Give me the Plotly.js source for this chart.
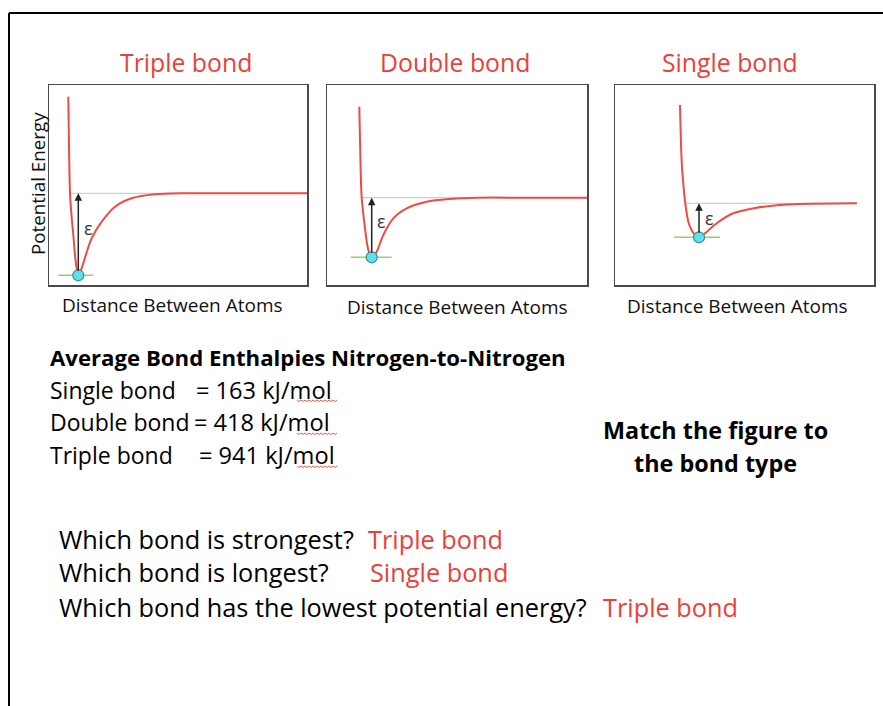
<!DOCTYPE html>
<html>
<head>
<meta charset="utf-8">
<script src="https://cdn.plot.ly/plotly-3.0.1.min.js"></script>
<style>
  html, body { margin: 0; padding: 0; background: #fff; }
  #chart { width: 883px; height: 706px; }
</style>
</head>
<body>
<div id="chart"></div>
<script>
// ---- Data (distance in px-like units, energy relative to separated atoms) ----
const panelTitles = ["Triple bond", "Double bond", "Single bond"];
const xAxisLabel = "Distance Between Atoms";
const yAxisLabel = "Potential Energy";

const tripleX = [19.3, 20.0, 21.0, 22.5, 24.3, 26.7, 29.3, 31.5, 34.3, 38.0, 42.7, 52.7, 66.0, 82.7, 106.0, 136.0, 180.0, 258.0];
const tripleY = [96.6, 48.0, 0.0, -22.0, -41.7, -68.4, -82.0, -78.0, -70.0, -58.0, -45.0, -28.4, -13.4, -5.0, -1.0, 0.0, 0.0, 0.0];

const doubleX = [32.3, 33.7, 34.7, 38.0, 40.3, 42.5, 44.7, 47.0, 49.7, 56.3, 66.3, 79.7, 99.7, 123.0, 149.7, 200.0, 260.0];
const doubleY = [91.0, 26.0, 0.0, -30.6, -47.3, -56.0, -59.6, -57.5, -54.0, -37.3, -20.6, -10.6, -4.0, -1.3, 0.0, 0.0, 0.0];

const singleX = [65.0, 66.7, 69.0, 70.3, 73.3, 78.0, 84.0, 87.0, 90.0, 101.7, 118.3, 141.7, 165.0, 185.0, 242.0];
const singleY = [98.3, 41.6, 11.6, 0.0, -18.4, -29.0, -34.0, -32.5, -30.0, -20.0, -10.0, -4.4, -1.7, -0.7, 0.0];

// equilibrium (minimum) points and well depths ε
const minX = [29.3, 44.7, 84.0];
const minY = [-82.0, -59.6, -34.0];
// where the wall crosses the dissociation level, and where each curve ends
const crossX = [21.0, 34.7, 70.3];
const endX = [258.0, 260.0, 242.0];

const heading = "Average Bond Enthalpies Nitrogen-to-Nitrogen";
const enthalpyLabels = ["Single bond", "Double bond", "Triple bond"];
const enthalpyValues = ["= 163 kJ/mol", "= 418 kJ/mol", "= 941 kJ/mol"];
const matchLines = ["Match the figure to", "the bond type"];
const questions = ["Which bond is strongest?", "Which bond is longest?", "Which bond has the lowest potential energy?"];
const answers = ["Triple bond", "Single bond", "Triple bond"];

// ---- Layout geometry ----
const W = 883, H = 706;
const px = v => v / W;
const py = v => 1 - v / H;
const RED = "#e8413a";
const FONT = "'Open Sans', sans-serif";

const boxes = [
  {x0: 49, x1: 307, y0: 85, y1: 285, xr: [0, 258], yr: [-91.7, 108.3]},
  {x0: 327, x1: 587, y0: 85, y1: 285, xr: [0, 260], yr: [-87.3, 112.7]},
  {x0: 615, x1: 874, y0: 85, y1: 285, xr: [0, 259], yr: [-81.7, 118.3]}
];

const curvesX = [tripleX, doubleX, singleX];
const curvesY = [tripleY, doubleY, singleY];
const greenLeft = [20, 21, 25];
const greenRight = [15, 20, 21];

const traces = [];
const annotations = [];
const layout = {
  width: W, height: H,
  margin: {l: 0, r: 0, t: 0, b: 0},
  paper_bgcolor: "#fff", plot_bgcolor: "#fff",
  showlegend: false,
  font: {family: FONT, color: "#000"},
  shapes: []
};

function note(x, y, text, size, color, anchor, extra) {
  const xx = anchor === "left" ? x - 3 : x;
  annotations.push(Object.assign({xref: "paper", yref: "paper", x: px(xx), y: py(y), text: text,
    showarrow: false, xanchor: anchor, yanchor: "middle", font: {size: size, color: color, family: FONT}}, extra || {}));
}

boxes.forEach((b, i) => {
  const n = i === 0 ? "" : String(i + 1);
  const xa = "x" + n, ya = "y" + n;
  const axStyle = {
    showgrid: false, zeroline: false, showticklabels: false, ticks: "",
    showline: true, mirror: true, linecolor: "#4a4a4a", linewidth: 1.5,
    fixedrange: true
  };
  layout["xaxis" + n] = Object.assign({}, axStyle, {domain: [px(b.x0), px(b.x1)], range: b.xr, anchor: ya});
  layout["yaxis" + n] = Object.assign({}, axStyle, {domain: [py(b.y1), py(b.y0)], range: b.yr, anchor: xa});

  traces.push({x: [crossX[i], endX[i]], y: [0, 0], xaxis: xa, yaxis: ya, mode: "lines",
    line: {color: "#cfcfcf", width: 1.2}, hoverinfo: "skip"});
  traces.push({x: [minX[i] - greenLeft[i], minX[i] + greenRight[i]], y: [minY[i], minY[i]], xaxis: xa, yaxis: ya,
    mode: "lines", line: {color: "#8fd46a", width: 1.6}, hoverinfo: "skip"});
  traces.push({x: curvesX[i], y: curvesY[i], xaxis: xa, yaxis: ya, mode: "lines",
    line: {color: "#ee4b44", width: 2, shape: "spline", smoothing: 0.8}, hoverinfo: "skip"});
  traces.push({x: [minX[i]], y: [minY[i]], xaxis: xa, yaxis: ya, mode: "markers",
    marker: {size: 11, color: "#5fe0ec", line: {color: "#3c8c98", width: 1.2}}, hoverinfo: "skip"});

  annotations.push({xref: xa, yref: ya, axref: xa, ayref: ya, x: minX[i], y: 0, ax: minX[i], ay: minY[i] + 3,
    showarrow: true, arrowhead: 2, arrowsize: 1, arrowwidth: 1.5, arrowcolor: "#222", text: ""});
  annotations.push({xref: xa, yref: ya, x: minX[i], y: minY[i] / 2 + (i === 2 ? 2 : 6), xshift: 10,
    text: "ε", showarrow: false, font: {size: 18, color: "#333", family: FONT}});

  note([186, 455, 730][i], 62, panelTitles[i], 24.8, RED, "center");
  note([172, 458, 737][i], [305, 307, 306][i], xAxisLabel, 19, "#111", "center");
});

note(38, 184, yAxisLabel, 18.8, "#111", "center", {textangle: -90});

note(51, 358, "<b>" + heading + "</b>", 22.2, "#000", "left");
enthalpyLabels.forEach((t, k) => {
  const yy = [390, 422, 455][k];
  note(51, yy, t, 23, "#000", "left");
  note([197, 195, 200][k], yy, enthalpyValues[k], 23.6, "#000", "left");
});
matchLines.forEach((t, k) => note(715, [430, 463][k], "<b>" + t + "</b>", 23.4, "#000", "center"));
questions.forEach((t, k) => {
  const yy = [539, 572, 607][k];
  note(60, yy, t, 25.3, "#000", "left");
  note([369, 371, 604][k], yy, answers[k], 25.3, RED, "left");
});

// outer frame
layout.shapes.push({type: "line", xref: "paper", yref: "paper", x0: px(9), x1: 1, y0: py(13), y1: py(13),
  line: {color: "#000", width: 2}});
layout.shapes.push({type: "line", xref: "paper", yref: "paper", x0: px(9), x1: px(9), y0: py(13), y1: 0,
  line: {color: "#000", width: 2}});

// spell-check wavy underlines under "mol"
[400, 433, 466].forEach(yy => {
  let d = "M" + px(297) + "," + py(yy);
  for (let xx = 299, k = 0; xx <= 337; xx += 2, k++) {
    d += " L" + px(xx) + "," + py(yy + (k % 2 === 0 ? 1.5 : 0));
  }
  layout.shapes.push({type: "path", xref: "paper", yref: "paper", path: d, line: {color: "#e0322c", width: 0.8}});
});

layout.annotations = annotations;
Plotly.newPlot("chart", traces, layout, {displayModeBar: false, staticPlot: true});
</script>
</body>
</html>
